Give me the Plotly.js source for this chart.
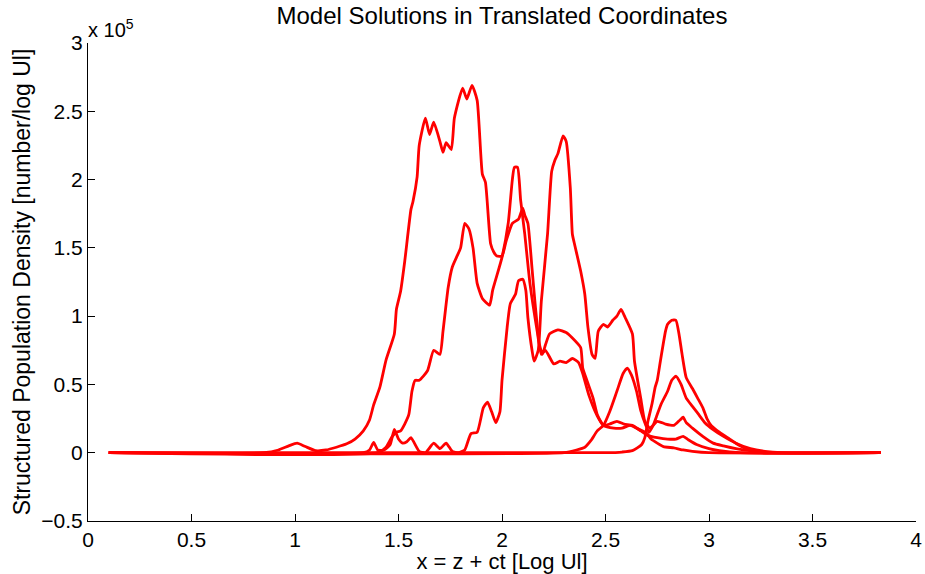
<!DOCTYPE html>
<html>
<head>
<meta charset="utf-8">
<script src="https://cdn.plot.ly/plotly-3.0.1.min.js"></script>
<style>html,body{margin:0;padding:0;background:#fff;}#chart{width:925px;height:574px;}</style>
</head>
<body>
<div id="chart"></div>
<script>
// values of y are in units of 1e5
const x1 = [0.1,0.85,0.92,0.97,1.01,1.05,1.1,1.15,1.2,1.25,1.29,1.33,1.36,1.38,1.41,1.44,1.48,1.49,1.51,1.53,1.56,1.57,1.59,1.60,1.63,1.65,1.67,1.70,1.715,1.73,1.755,1.77,1.81,1.83,1.855,1.88,1.905,1.92,1.945,1.96,1.975,2.0,2.02,2.05,2.08,2.10,2.11,2.125,2.145,2.16,2.18,2.195,2.21,2.23,2.27,2.31,2.34,2.38,2.39,2.41,2.44,2.46,2.49,2.52,2.555,2.59,2.63,2.67,2.70,2.72,2.75,2.8,2.84,2.875,2.9,2.94,3.0,3.05,3.15,3.83];
const y1 = [0,0,0.02,0.05,0.07,0.045,0.015,0.02,0.04,0.065,0.1,0.16,0.24,0.35,0.48,0.68,0.87,1.05,1.18,1.4,1.78,1.84,2.02,2.25,2.45,2.33,2.42,2.28,2.20,2.27,2.22,2.45,2.67,2.59,2.69,2.58,2.04,1.98,1.53,1.47,1.44,1.44,1.55,1.68,1.71,1.79,1.74,1.68,1.35,1.09,0.8,0.72,0.79,0.87,0.9,0.88,0.84,0.77,0.62,0.53,0.4,0.28,0.2,0.21,0.23,0.21,0.2,0.16,0.13,0.12,0.11,0.1,0.1,0.12,0.095,0.06,0.03,0.015,0,0];

const x2 = [0.1,1.4,1.44,1.47,1.49,1.51,1.53,1.55,1.565,1.58,1.60,1.64,1.67,1.70,1.715,1.74,1.76,1.78,1.80,1.82,1.84,1.86,1.88,1.905,1.94,1.955,2.0,2.03,2.05,2.06,2.075,2.09,2.11,2.135,2.17,2.19,2.21,2.25,2.28,2.31,2.34,2.37,2.39,2.42,2.46,2.49,2.54,2.58,2.62,2.65,2.70,2.72,2.75,2.78,2.83,2.875,2.92,3.0,3.83];
const y2 = [0,0,0.04,0.12,0.15,0.16,0.21,0.28,0.45,0.53,0.53,0.6,0.75,0.72,0.89,1.21,1.36,1.43,1.5,1.68,1.64,1.5,1.24,1.13,1.08,1.19,1.43,1.68,2.0,2.09,2.09,1.85,1.6,1.24,0.89,0.72,0.75,0.65,0.67,0.66,0.69,0.66,0.58,0.42,0.27,0.2,0.18,0.18,0.2,0.18,0.14,0.1,0.07,0.045,0.035,0.02,0.01,0,0];

const x3 = [0.1,1.33,1.36,1.38,1.40,1.43,1.46,1.48,1.50,1.52,1.54,1.56,1.60,1.63,1.67,1.70,1.73,1.76,1.79,1.82,1.85,1.88,1.91,1.93,1.95,1.97,1.99,2.0,2.025,2.04,2.065,2.08,2.10,2.115,2.125,2.145,2.155,2.175,2.19,2.22,2.24,2.255,2.27,2.295,2.31,2.33,2.34,2.35,2.38,2.40,2.415,2.435,2.45,2.465,2.49,2.51,2.535,2.555,2.575,2.595,2.63,2.64,2.67,2.69,2.715,2.75,2.79,2.83,2.86,2.875,2.89,2.92,2.97,3.02,3.07,3.13,3.2,3.3,3.83];
const y3 = [0,0,0.02,0.075,0.02,0.02,0.06,0.17,0.1,0.07,0.08,0.11,0.01,0,0.07,0.03,0.07,0.01,0,0.02,0.14,0.15,0.33,0.37,0.3,0.22,0.3,0.53,0.92,1.09,1.16,1.26,1.27,1.19,0.99,0.75,0.67,0.75,1.11,1.6,2.06,2.14,2.19,2.32,2.28,1.94,1.6,1.53,1.33,1.16,0.92,0.72,0.69,0.89,0.94,0.92,0.97,1.0,1.05,0.99,0.87,0.67,0.4,0.23,0.18,0.23,0.21,0.2,0.24,0.26,0.22,0.18,0.12,0.07,0.05,0.03,0.015,0,0];

const x4 = [0.1,2.3,2.36,2.4,2.43,2.46,2.49,2.52,2.555,2.585,2.605,2.625,2.65,2.67,2.695,2.71,2.73,2.75,2.77,2.80,2.82,2.84,2.865,2.89,2.92,2.95,2.98,3.02,3.07,3.13,3.2,3.27,3.35,3.83];
const y4 = [0,0,0.02,0.04,0.09,0.16,0.2,0.3,0.45,0.58,0.62,0.57,0.45,0.31,0.2,0.15,0.2,0.28,0.36,0.45,0.53,0.56,0.5,0.4,0.34,0.28,0.22,0.17,0.12,0.07,0.03,0.01,0,0];

const x5 = [0.1,2.5,2.58,2.63,2.675,2.69,2.705,2.725,2.74,2.75,2.765,2.79,2.80,2.82,2.84,2.855,2.87,2.89,2.92,2.945,2.97,2.99,3.01,3.05,3.1,3.15,3.2,3.25,3.83];
const y5 = [0,0,0.005,0.015,0.06,0.11,0.23,0.36,0.48,0.53,0.67,0.89,0.94,0.97,0.97,0.87,0.72,0.55,0.47,0.4,0.33,0.25,0.2,0.15,0.1,0.05,0.015,0,0];

const seriesX = [x1, x2, x3, x4, x5];
const seriesY = [y1, y2, y3, y4, y5];

const xTicks = [0, 0.5, 1, 1.5, 2, 2.5, 3, 3.5, 4];
const yTicks = [-0.5, 0, 0.5, 1, 1.5, 2, 2.5, 3];

const FONT = 'Liberation Sans, Arial, Helvetica, sans-serif';

const traces = seriesX.map((xs, i) => ({
  x: xs, y: seriesY[i], type: 'scatter', mode: 'lines',
  line: {color: '#ff0000', width: 2.8, shape: 'spline', smoothing: 0.5},
  hoverinfo: 'skip', showlegend: false
}));

const layout = {
  width: 925, height: 574,
  margin: {l: 88, r: 9, t: 43, b: 53},
  paper_bgcolor: '#ffffff', plot_bgcolor: '#ffffff',
  font: {family: FONT, color: '#000000', size: 21},
  title: {text: 'Model Solutions in Translated Coordinates', font: {family: FONT, size: 24, color: '#000'},
          xref: 'paper', x: 0.5, xanchor: 'center', yref: 'container', y: 0.972, yanchor: 'middle'},
  xaxis: {range: [0, 4], tickvals: xTicks, ticktext: xTicks.map(String), ticks: 'inside', ticklen: 7, tickcolor: '#000',
          showline: true, linecolor: '#000', linewidth: 1, mirror: false, showgrid: false, zeroline: false,
          tickfont: {family: FONT, size: 21, color: '#000'},
          title: {text: 'x = z + ct [Log Ul]', font: {family: FONT, size: 22, color: '#000'}, standoff: 0}},
  yaxis: {range: [-0.5, 3], tickvals: yTicks, ticktext: yTicks.map(v => v < 0 ? '\u2212' + Math.abs(v) : String(v)), ticks: 'inside', ticklen: 7, tickcolor: '#000',
          showline: true, linecolor: '#000', linewidth: 1, mirror: false, showgrid: false, zeroline: false,
          tickfont: {family: FONT, size: 21, color: '#000'},
          title: {text: 'Structured Population Density [number/log Ul]', font: {family: FONT, size: 23, color: '#000'}, standoff: 4}},
  annotations: [{text: 'x 10<sup>5</sup>', xref: 'paper', yref: 'paper', x: 0, y: 1, xanchor: 'left', yanchor: 'bottom',
                 showarrow: false, font: {family: FONT, size: 20, color: '#000'}, xshift: -2, yshift: 0}]
};

Plotly.newPlot('chart', traces, layout, {displayModeBar: false, staticPlot: true});
</script>
</body>
</html>
